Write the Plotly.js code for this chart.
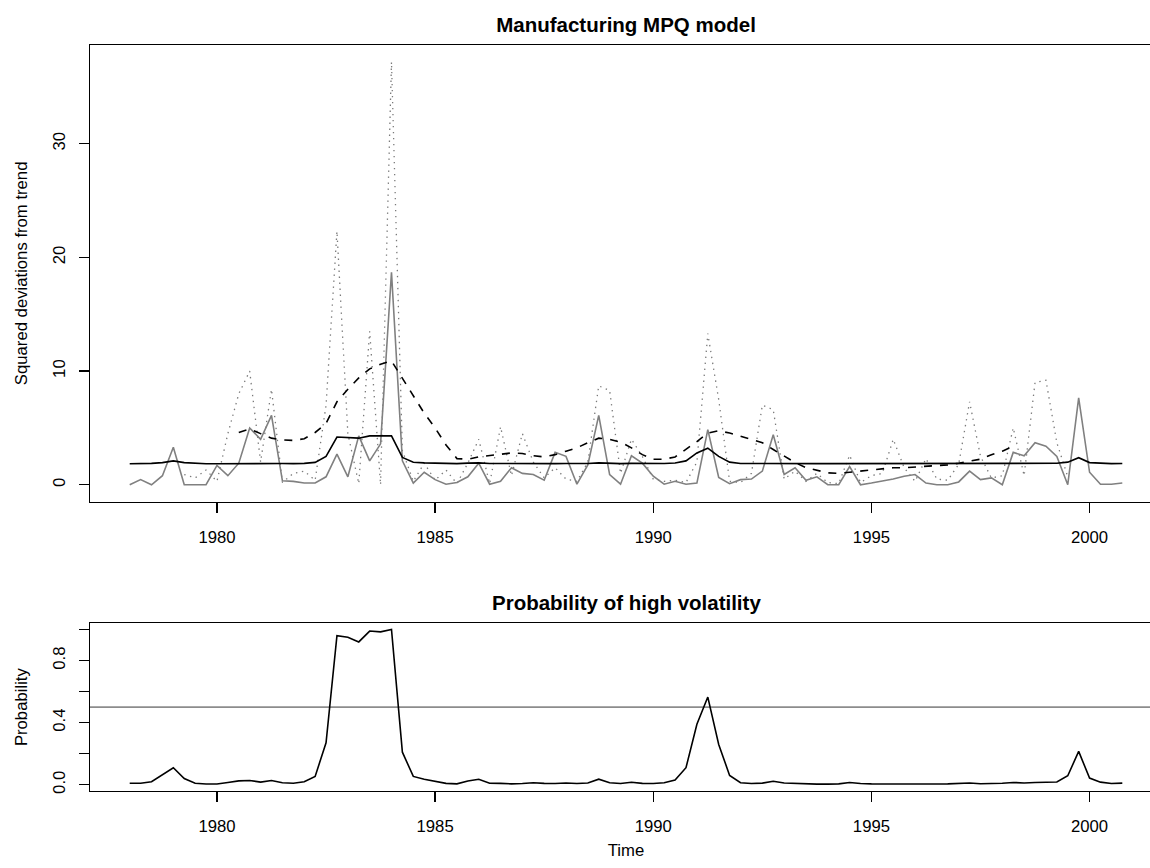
<!DOCTYPE html>
<html>
<head>
<meta charset="utf-8">
<script src="https://cdn.plot.ly/plotly-3.0.1.min.js"></script>
<style>
  html, body { margin: 0; padding: 0; background: #fff; overflow: hidden; }
  #chart { width: 1200px; height: 868px; }
</style>
</head>
<body>
<div id="chart"></div>
<script>
// Quarterly series, 1978 Q1 .. 2000 Q4 (92 observations)
const startYear = 1978;
const quartersPerYear = 4;

// Squared deviations from trend (grey solid)
const sqDev = [
  0, 0.45, 0, 0.8, 3.3, 0, 0, 0, 1.7, 0.8,
  1.9, 5.0, 4.0, 6.1, 0.35, 0.3, 0.15, 0.15, 0.7, 2.7,
  0.7, 4.3, 2.1, 3.6, 18.7, 2.1, 0.15, 1.1, 0.45, 0.05,
  0.2, 0.7, 1.9, 0.05, 0.3, 1.5, 1.0, 0.9, 0.4, 2.85,
  2.5, 0.05, 1.75, 6.1, 0.9, 0.05, 2.55, 1.9, 0.75, 0.05,
  0.3, 0.05, 0.15, 4.85, 0.65, 0.1, 0.45, 0.5, 1.2, 4.4,
  0.9, 1.5, 0.4, 0.7, 0, 0, 1.6, 0, 0.15, 0.3,
  0.5, 0.75, 0.9, 0.15, 0, 0, 0.25, 1.2, 0.45, 0.6,
  0, 2.85, 2.55, 3.7, 3.4, 2.5, 0, 7.65, 1.1, 0.05,
  0.05, 0.15
];

// Alternative squared deviations (grey dotted)
const sqDevAlt = [
  null, null, null, null, null, 0.9, 0.6, 1.3, 0.3, 4.5,
  8.0, 10.0, 2.0, 8.4, 0.2, 1.0, 1.2, 0.4, 7.0, 22.3,
  4.5, 0.1, 13.5, 0.0, 37.2, 3.0, 0.3, 1.9, 0.4, 1.3,
  0.1, 1.9, 4.0, 0.1, 5.1, 0.8, 4.5, 2.0, 0.6, 1.5,
  0.5, 0.3, 2.0, 8.7, 8.3, 1.0, 4.0, 2.5, 0.5, 0.3,
  0.4, 0.2, 2.0, 13.3, 7.5, 0.3, 0.2, 1.0, 7.0, 6.6,
  0.5, 1.2, 0.3, 1.0, 0.2, 0.1, 2.6, 0.2, 0.8, 1.0,
  4.0, 1.5, 0.3, 2.3, 0.5, 0.4, 1.8, 7.3, 2.5, 0.6,
  0.8, 5.0, 0.8, 9.0, 9.2, 3.7, 0.7, null, null, null,
  null, null
];

// Smoothed squared deviations (black dashed)
const sqDevSmooth = [
  null, null, null, null, null, null, null, null, null, null,
  4.6, 4.9, 4.5, 4.1, 3.95, 3.9, 4.05, 4.6, 5.4, 7.3,
  8.4, 9.4, 10.2, 10.6, 10.9, 9.4, 7.8, 6.3, 5.0, 3.5,
  2.3, 2.25, 2.45, 2.55, 2.7, 2.8, 2.75, 2.55, 2.45, 2.65,
  2.95, 3.25, 3.7, 4.1, 4.0, 3.75, 3.25, 2.65, 2.25, 2.25,
  2.45, 3.1, 3.8, 4.55, 4.75, 4.55, 4.25, 3.95, 3.7, 3.1,
  2.5, 1.95, 1.5, 1.25, 1.05, 1.0, 1.1, 1.2, 1.25, 1.4,
  1.5, 1.5, 1.55, 1.6, 1.7, 1.75, 1.9, 2.05, 2.25, 2.65,
  2.95, 3.4, null, null, null, null, null, null, null, null,
  null, null
];

// Fitted variance from the MPQ model (black solid)
const fittedVar = [
  1.85, 1.85, 1.88, 1.95, 2.1, 1.95, 1.87, 1.85, 1.85, 1.86,
  1.88, 1.89, 1.87, 1.89, 1.87, 1.86, 1.88, 1.97, 2.5, 4.2,
  4.15, 4.1, 4.3, 4.3, 4.3, 2.4, 1.98, 1.93, 1.89, 1.87,
  1.86, 1.9, 1.93, 1.87, 1.86, 1.86, 1.86, 1.87, 1.86, 1.86,
  1.87, 1.86, 1.87, 1.93, 1.87, 1.86, 1.88, 1.86, 1.86, 1.87,
  1.92, 2.1, 2.8, 3.22, 2.5, 1.99, 1.87, 1.86, 1.87, 1.9,
  1.87, 1.86, 1.86, 1.86, 1.86, 1.86, 1.88, 1.86, 1.86, 1.86,
  1.86, 1.86, 1.86, 1.86, 1.86, 1.86, 1.86, 1.87, 1.86, 1.86,
  1.87, 1.88, 1.87, 1.88, 1.89, 1.89, 1.99, 2.38, 1.95, 1.89,
  1.86, 1.87
];

// Probability of high volatility regime
const probHigh = [
  0.01, 0.01, 0.02, 0.065, 0.11, 0.04, 0.01, 0.005, 0.005, 0.015,
  0.025, 0.028, 0.017, 0.028, 0.013, 0.01, 0.019, 0.054, 0.27, 0.96,
  0.95, 0.92, 0.99, 0.985, 1.0, 0.21, 0.054, 0.036, 0.02, 0.009,
  0.006, 0.024, 0.036, 0.01, 0.009, 0.006, 0.008, 0.013, 0.009, 0.008,
  0.012, 0.008, 0.012, 0.036, 0.013, 0.008, 0.016, 0.009, 0.008, 0.013,
  0.03, 0.11, 0.39, 0.565, 0.26, 0.06, 0.013, 0.008, 0.011, 0.023,
  0.012, 0.008, 0.006, 0.004, 0.004, 0.006, 0.015, 0.008, 0.006, 0.005,
  0.006, 0.005, 0.005, 0.006, 0.005, 0.006, 0.008, 0.012, 0.007, 0.008,
  0.01, 0.015, 0.012, 0.015, 0.017, 0.018, 0.058, 0.215, 0.043, 0.017,
  0.008, 0.011
];

const threshold = 0.5;
const xTickVals = [1980, 1985, 1990, 1995, 2000];
const yTopTicks = [0, 10, 20, 30];
const yBotTicks = [0, 0.2, 0.4, 0.6, 0.8, 1.0];
const yBotLabels = ['0.0', '', '0.4', '', '0.8', ''];

const time = sqDev.map((_, i) => startYear + i / quartersPerYear);

const FONT = 'Liberation Sans, Arial, Helvetica, sans-serif';

const traces = [
  { x: time, y: sqDevAlt, mode: 'lines', line: { color: '#7a7a7a', width: 1.3, dash: '1.4px,4.6px' }, xaxis: 'x', yaxis: 'y', connectgaps: false },
  { x: time, y: sqDev, mode: 'lines', line: { color: '#808080', width: 1.6 }, xaxis: 'x', yaxis: 'y' },
  { x: time, y: sqDevSmooth, mode: 'lines', line: { color: '#000', width: 1.6, dash: '8px,8px' }, xaxis: 'x', yaxis: 'y', connectgaps: false },
  { x: time, y: fittedVar, mode: 'lines', line: { color: '#000', width: 1.6 }, xaxis: 'x', yaxis: 'y' },
  { x: time, y: probHigh, mode: 'lines', line: { color: '#000', width: 1.6 }, xaxis: 'x2', yaxis: 'y2' }
];

const axisCommon = {
  ticks: 'outside', ticklen: 10, tickwidth: 1.3, tickcolor: '#000',
  showline: true, linewidth: 1.3, linecolor: '#000', mirror: true,
  showgrid: false, zeroline: false, fixedrange: true,
  tickfont: { family: FONT, size: 16.7, color: '#000' }
};

const layout = {
  width: 1200, height: 868,
  margin: { l: 90, r: 38, t: 45, b: 77 },
  paper_bgcolor: '#fff', plot_bgcolor: '#fff',
  showlegend: false,
  font: { family: FONT, size: 16.7, color: '#000' },
  title: {
    text: '<b>Manufacturing MPQ model</b>',
    font: { family: FONT, size: 20.5, color: '#000' },
    xref: 'paper', x: 0.5, xanchor: 'center',
    yref: 'container', y: 1 - 25 / 868, yanchor: 'middle'
  },
  xaxis: Object.assign({}, axisCommon, {
    domain: [0, 1], anchor: 'y', range: [1977.09, 2001.66],
    tickmode: 'array', tickvals: xTickVals, ticklabelstandoff: 10
  }),
  yaxis: Object.assign({}, axisCommon, {
    domain: [1 - 456.7 / 746, 1], anchor: 'x', range: [-1.49, 38.69],
    tickmode: 'array', tickvals: yTopTicks, tickangle: -90, ticklabelstandoff: 7,
    title: { text: 'Squared deviations from trend', font: { family: FONT, size: 16.7, color: '#000' }, standoff: 18 }
  }),
  xaxis2: Object.assign({}, axisCommon, {
    domain: [0, 1], anchor: 'y2', range: [1977.09, 2001.66],
    tickmode: 'array', tickvals: xTickVals, ticklabelstandoff: 10,
    title: { text: 'Time', font: { family: FONT, size: 16.7, color: '#000' }, standoff: 9 }
  }),
  yaxis2: Object.assign({}, axisCommon, {
    domain: [0, 167.7 / 746], anchor: 'x2', range: [-0.04, 1.04],
    tickmode: 'array', tickvals: yBotTicks, ticktext: yBotLabels, tickangle: -90, ticklabelstandoff: 7,
    title: { text: 'Probability', font: { family: FONT, size: 16.7, color: '#000' }, standoff: 18 }
  }),
  shapes: [
    { type: 'line', xref: 'x2 domain', yref: 'y2', x0: 0, x1: 1, y0: threshold, y1: threshold,
      line: { color: '#8c8c8c', width: 1.6 }, layer: 'below' }
  ],
  annotations: [
    { text: '<b>Probability of high volatility</b>', xref: 'paper', yref: 'paper',
      x: 0.5, xanchor: 'center', y: (791 - 602) / 746, yanchor: 'middle', showarrow: false,
      font: { family: FONT, size: 20.5, color: '#000' } }
  ]
};

Plotly.newPlot('chart', traces, layout, { displayModeBar: false, staticPlot: true });
</script>
</body>
</html>
